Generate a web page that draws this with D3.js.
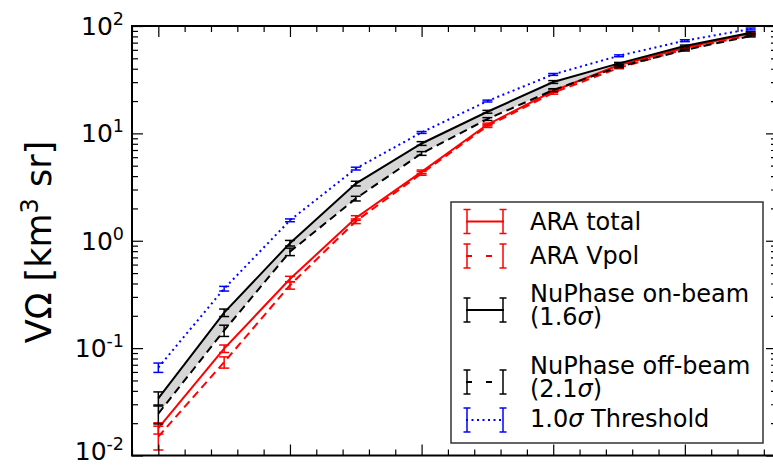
<!DOCTYPE html>
<html>
<head>
<meta charset="utf-8">
<script src="https://cdn.jsdelivr.net/npm/d3@7"></script>
<style>
  body { margin: 0; background: #fff; }
  svg { display: block; font-family: "DejaVu Sans", sans-serif; }
</style>
</head>
<body>
<div id="chart"></div>
<script>
// energy bins (log10 E), x tick values are not visible in the crop
const energies = [17, 17.5, 18, 18.5, 19, 19.5, 20, 20.5, 21, 21.5];

// effective volume (km^3 sr) per series
const araTotal  = [0.018, 0.099, 0.44, 1.63, 4.38, 12.1, 24.8, 43.3, 62.8, 85.5];
const araVpol   = [0.015, 0.074, 0.385, 1.52, 4.24, 11.7, 23.9, 40.8, 60.7, 82.4];
const nuOnBeam  = [0.034, 0.214, 0.95, 3.41, 8.05, 15.9, 30.1, 44.9, 65.1, 86.6];
const nuOffBeam = [0.0246, 0.146, 0.79, 2.47, 6.5, 13.6, 25.3, 41.8, 59.7, 80.7];
const threshold = [0.066, 0.358, 1.55, 4.7, 10.2, 20.0, 35.4, 52.8, 73.0, 93.8];

// relative error bars
const araTotalErr  = [0.12, 0.08, 0.06, 0.05, 0.04, 0.03, 0.03, 0.02, 0.02, 0.02];
const araVpolErr   = [0.25, 0.12, 0.08, 0.05, 0.04, 0.03, 0.03, 0.02, 0.02, 0.02];
const nuOnBeamErr  = [0.15, 0.08, 0.06, 0.05, 0.04, 0.03, 0.03, 0.02, 0.02, 0.02];
const nuOffBeamErr = [0.2, 0.12, 0.08, 0.05, 0.04, 0.03, 0.03, 0.02, 0.02, 0.02];
const thresholdErr = [0.1, 0.05, 0.03, 0.03, 0.02, 0.02, 0.02, 0.02, 0.02, 0.02];

const yTicks = [0.01, 0.1, 1, 10, 100];
const yTickExp = ["-2", "-1", "0", "1", "2"];
const xMajor = [17, 18, 19, 20, 21];

const W = 773, H = 465;
const pLeft = 132, pRight = 777, pTop = 26, pBottom = 455.5;

const x = d3.scaleLinear().domain([16.8, 21.7]).range([pLeft, pRight]);
const y = d3.scaleLog().domain([0.01, 100]).range([pBottom, pTop]);

const svg = d3.select("#chart").append("svg")
    .attr("width", W)
    .attr("height", H);

// shaded band between NuPhase on/off beam
const area = d3.area()
    .x((d, i) => x(energies[i]))
    .y0((d, i) => y(nuOffBeam[i]))
    .y1(d => y(d));
svg.append("path")
    .datum(nuOnBeam)
    .attr("d", area)
    .attr("fill", "#d6d6d6");

const series = [
  { name: ["ARA total"], vals: araTotal, err: araTotalErr, color: "#ff0000", dash: null, legDash: null },
  { name: ["ARA Vpol"], vals: araVpol, err: araVpolErr, color: "#ff0000", dash: "8,5", legDash: "6,14" },
  { name: ["NuPhase on-beam", "(1.6σ)"], vals: nuOnBeam, err: nuOnBeamErr, color: "#000000", dash: null, legDash: null },
  { name: ["NuPhase off-beam", "(2.1σ)"], vals: nuOffBeam, err: nuOffBeamErr, color: "#000000", dash: "8,5", legDash: "6,14" },
  { name: ["1.0σ Threshold"], vals: threshold, err: thresholdErr, color: "#0000ff", dash: "2,3.5", legDash: "2,3.5" }
];

const line = d3.line()
    .x((d, i) => x(energies[i]))
    .y(d => y(d));

series.forEach(s => {
  const g = svg.append("g");
  g.append("path")
      .datum(s.vals)
      .attr("d", line)
      .attr("fill", "none")
      .attr("stroke", s.color)
      .attr("stroke-width", 2)
      .attr("stroke-dasharray", s.dash);

  const bars = g.selectAll(".eb")
      .data(s.vals)
      .enter()
      .append("g");
  bars.each(function (d, i) {
    const cx = x(energies[i]);
    const lo = y(d * (1 - s.err[i]));
    const hi = y(d * (1 + s.err[i]));
    const b = d3.select(this);
    b.append("line").attr("x1", cx).attr("x2", cx).attr("y1", lo).attr("y2", hi);
    b.append("line").attr("x1", cx - 5).attr("x2", cx + 5).attr("y1", lo).attr("y2", lo);
    b.append("line").attr("x1", cx - 5).attr("x2", cx + 5).attr("y1", hi).attr("y2", hi);
  });
  bars.selectAll("line")
      .attr("stroke", s.color)
      .attr("stroke-width", 1.5);
});

// axes, ticks pointing inward
const yMinor = [];
[0.01, 0.1, 1, 10].forEach(d => { for (let k = 2; k <= 9; k++) yMinor.push(d * k); });
const xMinor = d3.range(16.8, 21.75, 0.2).filter(v => !xMajor.some(m => Math.abs(m - v) < 1e-6));

function addAxis(axis, tr) {
  const g = svg.append("g").attr("transform", tr).call(axis);
  g.select(".domain").remove();
  g.selectAll(".tick line").attr("stroke", "#000").attr("stroke-width", 1.2);
  g.selectAll(".tick text").remove();
}

addAxis(d3.axisLeft(y).tickValues(yTicks).tickSize(-11), `translate(${pLeft},0)`);
addAxis(d3.axisLeft(y).tickValues(yMinor).tickSize(-6), `translate(${pLeft},0)`);
addAxis(d3.axisRight(y).tickValues(yTicks).tickSize(-11), `translate(${pRight},0)`);
addAxis(d3.axisRight(y).tickValues(yMinor).tickSize(-6), `translate(${pRight},0)`);
addAxis(d3.axisBottom(x).tickValues(xMajor).tickSize(-11), `translate(0,${pBottom})`);
addAxis(d3.axisBottom(x).tickValues(xMinor).tickSize(-6), `translate(0,${pBottom})`);
addAxis(d3.axisTop(x).tickValues(xMajor).tickSize(-11), `translate(0,${pTop})`);
addAxis(d3.axisTop(x).tickValues(xMinor).tickSize(-6), `translate(0,${pTop})`);

svg.append("rect")
    .attr("x", pLeft).attr("y", pTop)
    .attr("width", pRight - pLeft).attr("height", pBottom - pTop)
    .attr("fill", "none")
    .attr("stroke", "#000")
    .attr("stroke-width", 2);

// y tick labels 10^n (bottom one kept inside the frame)
yTicks.forEach((t, i) => {
  const txt = svg.append("text")
      .attr("x", 124)
      .attr("y", Math.min(y(t) + 9, 460))
      .attr("text-anchor", "end")
      .attr("font-size", 25);
  txt.append("tspan").text("10");
  txt.append("tspan").attr("dy", -10).attr("font-size", 17.5).text(yTickExp[i]);
});

// y axis label
const yl = svg.append("text")
    .attr("transform", "translate(50.5,242) rotate(-90)")
    .attr("text-anchor", "middle")
    .attr("font-size", 35);
yl.append("tspan").text("VΩ [km");
yl.append("tspan").attr("dy", -13).attr("font-size", 24).text("3");
yl.append("tspan").attr("dy", 13).text(" sr]");

// legend
const legend = svg.append("g");
legend.append("rect")
    .attr("x", 451).attr("y", 202)
    .attr("width", 312).attr("height", 241)
    .attr("fill", "#fff")
    .attr("stroke", "#333")
    .attr("stroke-width", 1.5);

const handleY = [221.5, 256, 310, 382, 420];
const textY = [221.5, 255, 293.3, 365, 418.3];
const lineGap = 23.4;

series.forEach((s, i) => {
  const hy = handleY[i];
  legend.append("line")
      .attr("x1", 466).attr("x2", 504)
      .attr("y1", hy).attr("y2", hy)
      .attr("stroke", s.color)
      .attr("stroke-width", 2)
      .attr("stroke-dasharray", s.legDash);
  [467, 503].forEach(bx => {
    legend.append("line")
        .attr("x1", bx).attr("x2", bx)
        .attr("y1", hy - 12).attr("y2", hy + 12)
        .attr("stroke", s.color).attr("stroke-width", 1.5);
    [hy - 12, hy + 12].forEach(cy => {
      legend.append("line")
          .attr("x1", bx - 3.5).attr("x2", bx + 3.5)
          .attr("y1", cy).attr("y2", cy)
          .attr("stroke", s.color).attr("stroke-width", 1.5);
    });
  });
  // one text element per entry, second line as a tspan
  const t = legend.append("text")
      .attr("x", 530)
      .attr("y", textY[i] + 8.5)
      .attr("font-size", 24);
  s.name.forEach((label, j) => {
    const parts = label.split("σ");
    parts.forEach((p, k) => {
      const sp = t.append("tspan").text(p);
      if (k === 0 && j > 0) sp.attr("x", 530).attr("dy", lineGap);
      if (k < parts.length - 1) t.append("tspan").attr("font-style", "italic").text("σ");
    });
  });
});
</script>
</body>
</html>
